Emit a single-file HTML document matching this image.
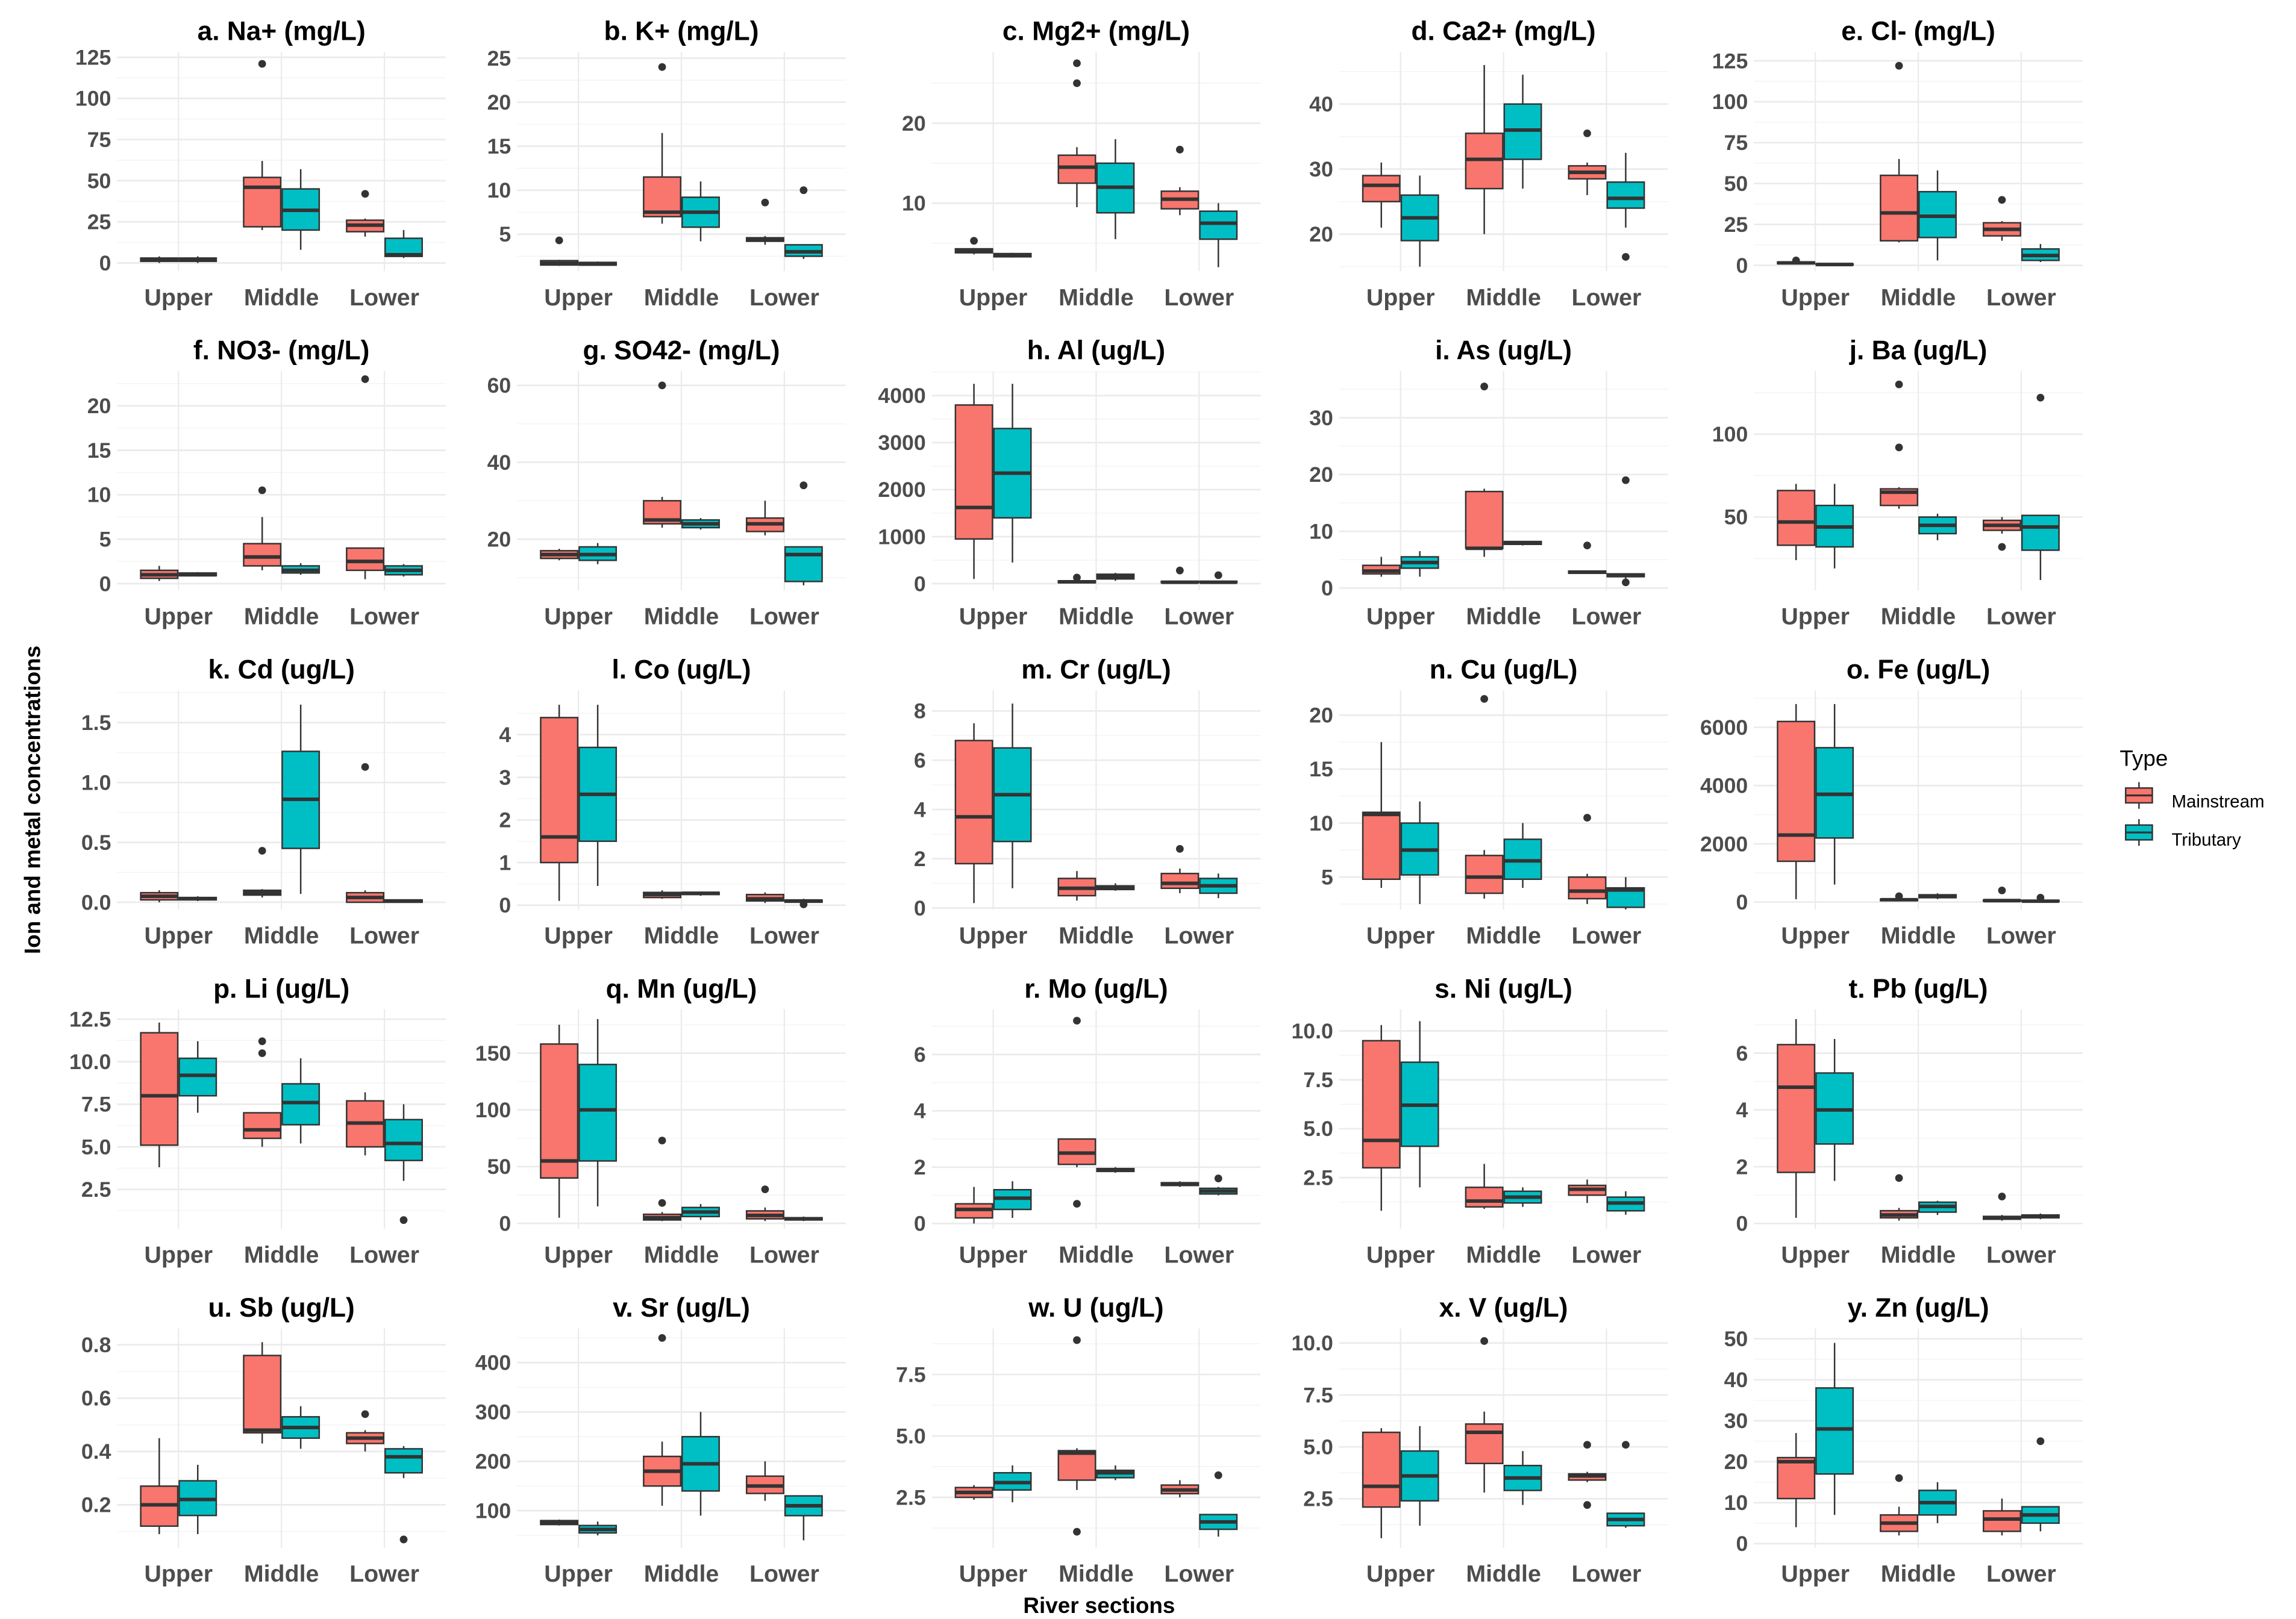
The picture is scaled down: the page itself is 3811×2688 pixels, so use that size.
<!DOCTYPE html>
<html><head><meta charset="utf-8"><style>html,body{margin:0;padding:0;background:#fff}svg{display:block}</style></head>
<body>
<svg id="chart" xmlns="http://www.w3.org/2000/svg" width="3811" height="2688" viewBox="0 0 1550 1093">
<rect width="1550" height="1093" fill="#fff"/>
<text transform="translate(27,540) rotate(-90)" text-anchor="middle" font-family="Liberation Sans, sans-serif" font-weight="bold" font-size="15" fill="#000">Ion and metal concentrations</text>
<text x="742" y="1089" text-anchor="middle" font-family="Liberation Sans, sans-serif" font-weight="bold" font-size="15" fill="#000">River sections</text>
<g font-family="Liberation Sans, sans-serif">
<text x="1431" y="517" font-size="15" fill="#000">Type</text>
<g>
<line x1="1444" y1="528" x2="1444" y2="546" stroke="#333" stroke-width="1"/>
<rect x="1435" y="532" width="18" height="10" fill="#F8766D" stroke="#333" stroke-width="1"/>
<line x1="1435" y1="537" x2="1453" y2="537" stroke="#333" stroke-width="1.3"/>
<text x="1466" y="545" font-size="12" fill="#000">Mainstream</text></g>
<g>
<line x1="1444" y1="553" x2="1444" y2="571" stroke="#333" stroke-width="1"/>
<rect x="1435" y="557" width="18" height="10" fill="#00BFC4" stroke="#333" stroke-width="1"/>
<line x1="1435" y1="562" x2="1453" y2="562" stroke="#333" stroke-width="1.3"/>
<text x="1466" y="571" font-size="12" fill="#000">Tributary</text></g>
</g>
<g id="panels"></g>
</svg>
<script>
const categories = ["Upper","Middle","Lower"];
const types = ["Mainstream","Tributary"];
const titles = ["a.  Na+ (mg/L)","b. K+ (mg/L)","c. Mg2+ (mg/L)","d. Ca2+ (mg/L)","e. Cl- (mg/L)",
"f. NO3- (mg/L)","g. SO42- (mg/L)","h. Al (ug/L)","i. As (ug/L)","j. Ba (ug/L)",
"k. Cd (ug/L)","l. Co (ug/L)","m. Cr (ug/L)","n. Cu (ug/L)","o. Fe (ug/L)",
"p. Li  (ug/L)","q. Mn (ug/L)","r. Mo (ug/L)","s. Ni (ug/L)","t. Pb (ug/L)",
"u. Sb (ug/L)","v. Sr (ug/L)","w. U (ug/L)","x. V (ug/L)","y. Zn (ug/L)"];
const domains = [[-5,128.2],[0.8,25.7],[1.5,28.9],[14.3,48],[-3.6,130.4],
[-0.75,23.9],[6.7,63.7],[-142,4520],[-0.4,38.2],[5.8,138],
[-0.06,1.77],[-0.1,5.04],[-0.06,8.84],[2.0,22.3],[-254,7271],
[0.2,13.07],[-4.6,188.5],[-0.18,7.6],[-0.11,11.1],[-0.18,7.54],
[0.039,0.861],[25,469],[0.45,9.37],[0.14,10.7],[-1,52.5]];
const ticks = [[0,25,50,75,100,125],[5,10,15,20,25],[10,20],[20,30,40],[0,25,50,75,100,125],
[0,5,10,15,20],[20,40,60],[0,1000,2000,3000,4000],[0,10,20,30],[50,100],
[0,0.5,1.0,1.5],[0,1,2,3,4],[0,2,4,6,8],[5,10,15,20],[0,2000,4000,6000],
[2.5,5.0,7.5,10.0,12.5],[0,50,100,150],[0,2,4,6],[2.5,5.0,7.5,10.0],[0,2,4,6],
[0.2,0.4,0.6,0.8],[100,200,300,400],[2.5,5.0,7.5],[2.5,5.0,7.5,10.0],[0,10,20,30,40,50]];
const tickLabels = [["0","25","50","75","100","125"],["5","10","15","20","25"],["10","20"],["20","30","40"],["0","25","50","75","100","125"],
["0","5","10","15","20"],["20","40","60"],["0","1000","2000","3000","4000"],["0","10","20","30"],["50","100"],
["0.0","0.5","1.0","1.5"],["0","1","2","3","4"],["0","2","4","6","8"],["5","10","15","20"],["0","2000","4000","6000"],
["2.5","5.0","7.5","10.0","12.5"],["0","50","100","150"],["0","2","4","6"],["2.5","5.0","7.5","10.0"],["0","2","4","6"],
["0.2","0.4","0.6","0.8"],["100","200","300","400"],["2.5","5.0","7.5"],["2.5","5.0","7.5","10.0"],["0","10","20","30","40","50"]];
// stats per panel: [Upper-M, Upper-T, Middle-M, Middle-T, Lower-M, Lower-T], each [lo,q1,med,q3,hi]
const stats = [
[[0,1,2,3,4],[0,1,2,3,4],[20,22,46,52,62],[8,20,32,45,57],[16,19,23,26,27],[3,4,5,15,20]],
[[1.4,1.5,1.7,2,2.1],[1.4,1.5,1.6,1.8,1.9],[6.2,7,7.5,11.5,16.5],[4.2,5.8,7.5,9.2,11],[3.8,4.2,4.4,4.6,4.8],[2.2,2.5,3,3.8,3.8]],
[[3.6,3.8,4,4.3,4.4],[3.2,3.3,3.5,3.7,3.8],[9.5,12.5,14.5,16,17],[5.5,8.8,12,15,18],[8.5,9.3,10.5,11.5,12],[2,5.5,7.5,9,10]],
[[21,25,27.5,29,31],[15,19,22.5,26,29],[20,27,31.5,35.5,46],[27,31.5,36,40,44.5],[26,28.5,29.5,30.5,31],[21,24,25.5,28,32.5]],
[[0.5,1,1.5,2,2.5],[0,0.3,0.5,0.8,1],[14,15,32,55,65],[3,17,30,45,58],[15,18,22,26,27],[2,3,6,10,13]],
[[0.3,0.6,1,1.5,2],[0.8,0.9,1,1.2,1.3],[1.5,2,3,4.5,7.5],[1,1.2,1.5,2,2.3],[0.5,1.5,2.5,4,4],[0.8,1,1.5,2,2.2]],
[[14.5,15,16,17,17.5],[13.5,14.5,16,18,19],[23,24,25,30,31],[22.5,23,24,25,25.5],[21,22,24,25.5,30],[8,9,16,18,18]],
[[100,950,1620,3800,4250],[450,1400,2350,3300,4250],[10,20,40,60,80],[60,100,150,200,230],[10,20,30,50,60],[10,20,30,50,60]],
[[2,2.5,3,4,5.5],[2,3.5,4.5,5.5,6.5],[5.5,7,7,17,17.5],[7.5,7.7,8,8.2,8.3],[2.5,2.6,2.8,3,3],[1.5,2,2.2,2.5,2.5]],
[[24,33,47,66,70],[19,32,44,57,70],[55,57,65,67,68],[36,40,45,50,52],[40,42,45,48,50],[12,30,44,51,51]],
[[0,0.02,0.05,0.08,0.1],[0.01,0.02,0.03,0.04,0.05],[0.04,0.06,0.08,0.1,0.11],[0.07,0.45,0.86,1.26,1.65],[0,0,0.04,0.08,0.1],[0,0,0.01,0.02,0.02]],
[[0.1,1,1.6,4.4,4.7],[0.45,1.5,2.6,3.7,4.7],[0.15,0.18,0.25,0.3,0.35],[0.22,0.25,0.28,0.3,0.32],[0.05,0.1,0.15,0.25,0.3],[0.04,0.07,0.1,0.12,0.15]],
[[0.2,1.8,3.7,6.8,7.5],[0.8,2.7,4.6,6.5,8.3],[0.3,0.5,0.8,1.2,1.5],[0.7,0.75,0.8,0.9,1.0],[0.6,0.8,1,1.4,1.6],[0.4,0.6,0.9,1.2,1.4]],
[[4,4.8,10.8,11,17.5],[2.5,5.2,7.5,10,12],[3,3.5,5,7,7.5],[4,4.8,6.5,8.5,10],[2.5,3,3.7,5,5.3],[2,2.2,3.8,4,5]],
[[100,1400,2300,6200,6800],[600,2200,3700,5300,6800],[30,50,80,100,120],[100,150,200,250,300],[20,30,50,70,90],[10,20,30,60,80]],
[[3.8,5.1,8,11.7,12.3],[7,8,9.2,10.2,11.2],[5,5.5,6,7,7],[5.2,6.3,7.6,8.7,10.2],[4.5,5,6.4,7.7,8.2],[3,4.2,5.2,6.6,7.5]],
[[5,40,55,158,175],[15,55,100,140,180],[2,3,5,8,10],[3,6,10,14,17],[2,4,7,11,14],[2,3,4,5,6]],
[[0,0.2,0.5,0.7,1.3],[0.2,0.5,0.9,1.2,1.5],[2,2.1,2.5,3,3],[1.8,1.85,1.9,1.95,2],[1.3,1.35,1.4,1.45,1.5],[1,1.05,1.15,1.25,1.3]],
[[0.8,3,4.4,9.5,10.3],[2,4.1,6.2,8.4,10.5],[0.9,1,1.3,2,3.2],[1,1.2,1.5,1.8,2],[1.2,1.6,1.9,2.1,2.4],[0.6,0.8,1.2,1.5,1.8]],
[[0.2,1.8,4.8,6.3,7.2],[1.5,2.8,4,5.3,6.5],[0.1,0.2,0.3,0.45,0.55],[0.3,0.4,0.6,0.75,0.8],[0.1,0.15,0.2,0.25,0.3],[0.15,0.2,0.25,0.3,0.35]],
[[0.09,0.12,0.2,0.27,0.45],[0.09,0.16,0.22,0.29,0.35],[0.43,0.47,0.48,0.76,0.81],[0.41,0.45,0.49,0.53,0.57],[0.4,0.43,0.45,0.47,0.48],[0.3,0.32,0.38,0.41,0.42]],
[[70,72,77,80,82],[50,55,62,70,78],[110,150,180,210,240],[90,140,195,250,300],[120,135,150,170,200],[40,90,110,130,130]],
[[2.4,2.5,2.7,2.9,3.0],[2.3,2.8,3.1,3.5,3.8],[2.8,3.2,4.3,4.4,4.5],[3.2,3.3,3.5,3.6,3.8],[2.5,2.65,2.8,3.0,3.2],[0.9,1.2,1.5,1.8,1.8]],
[[0.6,2.1,3.1,5.7,5.9],[1.2,2.4,3.6,4.8,6],[2.8,4.2,5.7,6.1,6.7],[2.2,2.9,3.5,4.1,4.8],[3.3,3.4,3.6,3.7,3.8],[1.1,1.2,1.5,1.8,1.8]],
[[4,11,20,21,27],[7,17,28,38,49],[2,3,5,7,9],[5,7,10,13,15],[2,3,6,8,11],[3,5,7,9,9]]
];
// outliers per panel, per group (same order as stats)
const outliers = [
[[],[],[121],[],[42],[]],
[[4.3],[],[24],[],[8.6],[10]],
[[5.3],[],[25,27.5],[],[16.7],[]],
[[],[],[],[],[35.5],[16.5]],
[[3],[],[122],[],[40],[]],
[[],[],[10.5],[],[23],[]],
[[],[],[60],[],[],[34]],
[[],[],[130],[],[280],[180]],
[[],[],[35.5],[],[7.5],[19,1]],
[[],[],[92,130],[],[32],[122]],
[[],[],[0.43],[],[1.13],[]],
[[],[],[],[],[],[0.02]],
[[],[],[],[],[2.4],[]],
[[],[],[21.5],[],[10.5],[]],
[[],[],[200],[],[400],[150]],
[[],[],[10.5,11.2],[],[],[0.7]],
[[],[],[18,73],[],[30],[]],
[[],[],[7.2,0.7],[],[],[1.6]],
[[],[],[],[],[],[]],
[[],[],[1.6],[],[0.95],[]],
[[],[],[],[],[0.54],[0.07]],
[[],[],[450],[],[],[]],
[[],[],[8.9,1.1],[],[],[3.4]],
[[],[],[10.1],[],[5.1,2.2],[5.1]],
[[],[],[16],[],[],[25]]
];
const colCenters = [190,460,740,1015,1295];
const rowOffsets = [0,215.5,431,646.5,862];
const fills = ["#F8766D","#00BFC4"];
const NS = "http://www.w3.org/2000/svg";
const root = document.getElementById("panels");
function mk(tag, attrs, parent){const e=document.createElementNS(NS,tag);for(const k in attrs)e.setAttribute(k,attrs[k]);parent.appendChild(e);return e;}
const FONT = "Liberation Sans, sans-serif";
for (let p=0;p<25;p++){
  const cx = colCenters[p%5], off = rowOffsets[Math.floor(p/5)];
  const top = off+35, bot = off+183, left = cx-111, right = cx+111;
  const [d0,d1] = domains[p];
  const yS = v => bot - (v-d0)/(d1-d0)*(bot-top);
  const xS = i => cx + (i-1)*69.5;
  const g = mk("g",{},root);
  
  
  // minor grid
  const tk = ticks[p];
  const step = tk.length>1 ? tk[1]-tk[0] : (d1-d0)/2;
  for (let v=tk[0]-step/2; v<=d1; v+=step){ if (v>=d0){ const y=yS(v); mk("line",{x1:left,x2:right,y1:y,y2:y,stroke:"#f4f4f4","stroke-width":0.6},g);} }
  // major grid
  for (let i=0;i<3;i++){ mk("line",{x1:xS(i),x2:xS(i),y1:top,y2:bot,stroke:"#ebebeb","stroke-width":0.9},g); }
  tk.forEach((v,j)=>{ const y=yS(v);
    mk("line",{x1:left,x2:right,y1:y,y2:y,stroke:"#ebebeb","stroke-width":1.1},g);
    const t=mk("text",{x:left-4,y:y+5,"text-anchor":"end","font-family":FONT,"font-size":14.5,"font-weight":"bold",fill:"#4d4d4d"},g);
    t.textContent = tickLabels[p][j];
    
    
  });
  // title
  const tt = mk("text",{x:cx,y:off+27,"text-anchor":"middle","font-family":FONT,"font-size":18,"font-weight":"bold",fill:"#000"},g);
  tt.textContent = titles[p];
  
  
  // x labels
  categories.forEach((c,i)=>{
    const t=mk("text",{x:xS(i),y:off+206,"text-anchor":"middle","font-family":FONT,"font-size":16,"font-weight":"bold",fill:"#4d4d4d"},g);
    t.textContent=c;
    
    
  });
  // boxes
  for (let gi=0; gi<6; gi++){
    const ci = Math.floor(gi/2), ti = gi%2;
    const bx = xS(ci) + (ti===0?-13:13), hw = 12.5;
    const s = stats[p][gi];
    const bg = mk("g",{},g);
    
    
    mk("line",{x1:bx,x2:bx,y1:yS(s[0]),y2:yS(s[4]),stroke:"#333","stroke-width":1},bg);
    const y3=yS(s[3]), y1=yS(s[1]);
    mk("rect",{x:bx-hw,y:y3,width:hw*2,height:Math.max(y1-y3,0.5),fill:fills[ti],stroke:"#333","stroke-width":1},bg);
    const ym=yS(s[2]);
    mk("line",{x1:bx-hw,x2:bx+hw,y1:ym,y2:ym,stroke:"#333","stroke-width":2.4},bg);
    outliers[p][gi].forEach(o=>{
      const c=mk("circle",{cx:bx,cy:yS(o),r:2.6,fill:"#333"},bg);
      
      
    });
  }
}
</script>
</body></html>
